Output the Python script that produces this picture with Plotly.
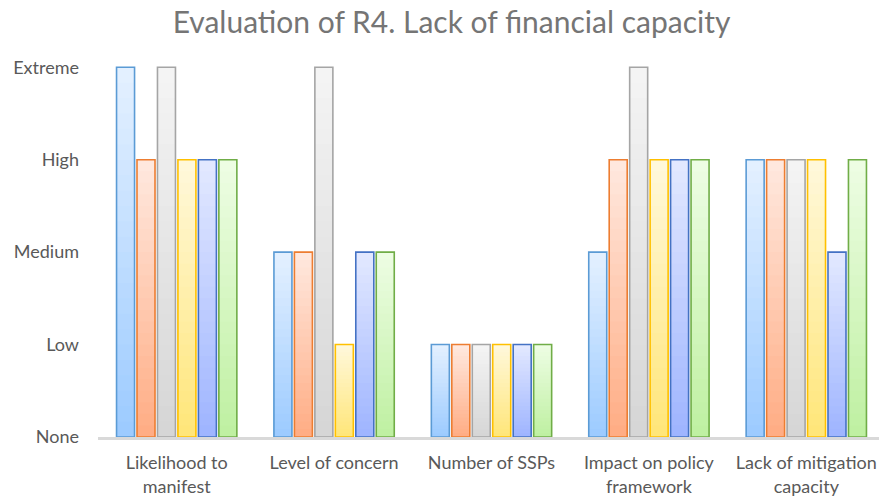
import plotly.graph_objects as go

categories = ["Likelihood to<br>manifest", "Level of concern", "Number of SSPs",
              "Impact on policy<br>framework", "Lack of mitigation<br>capacity"]
level_labels = ["None", "Low", "Medium", "High", "Extreme"]
level_values = [0, 1, 2, 3, 4]

series_values = {
    "S1": [4, 2, 1, 2, 3],
    "S2": [3, 2, 1, 3, 3],
    "S3": [4, 4, 1, 4, 3],
    "S4": [3, 1, 1, 3, 3],
    "S5": [3, 2, 1, 3, 2],
    "S6": [3, 2, 1, 3, 3],
}
outline_colors = ["#5B9BD5", "#ED7D31", "#A5A5A5", "#FFC000", "#4472C4", "#70AD47"]
top_colors = ["#E3F0FF", "#FFE8DE", "#F4F4F4", "#FFF8DA", "#E2E8FF", "#EDFDE3"]
bottom_colors = ["#9DCBFF", "#FFAD85", "#D6D6D6", "#FFE67A", "#9FB5FF", "#BFF0A2"]


def hex2rgb(h):
    h = h.lstrip("#")
    return tuple(int(h[i:i + 2], 16) for i in (0, 2, 4))


def mix(a, b, t):
    ra, rb = hex2rgb(a), hex2rgb(b)
    return "rgb(%d,%d,%d)" % tuple(round(ra[i] + (rb[i] - ra[i]) * t) for i in range(3))


N = 24
fig = go.Figure()
for si, (name, vals) in enumerate(series_values.items()):
    for k in range(N):
        frac = (N - k) / N
        fig.add_trace(go.Bar(
            x=categories, y=[v * frac for v in vals], base=0,
            offsetgroup=name, name=name, showlegend=False, hoverinfo="skip",
            marker=dict(color=mix(top_colors[si], bottom_colors[si], k / (N - 1)),
                        line=dict(width=0)),
        ))
    fig.add_trace(go.Bar(
        x=categories, y=vals, base=0, offsetgroup=name, name=name, showlegend=False,
        marker=dict(color="rgba(0,0,0,0)", line=dict(color=outline_colors[si], width=1.6)),
    ))

fig.update_layout(
    width=887, height=498,
    barmode="group", bargap=0.22, bargroupgap=0.12,
    plot_bgcolor="white", paper_bgcolor="white",
    margin=dict(l=90, r=10, t=50, b=69),
    font=dict(family="Lato, Open Sans, sans-serif", color="#595959", size=18),
    title=dict(text="Evaluation of R4. Lack of financial capacity", x=0.5, xanchor="center",
               xref="container", yref="container", y=0.971, yanchor="middle",
               font=dict(size=30, color="#757575")),
    xaxis=dict(showgrid=False, showline=True, linecolor="#D9D9D9", linewidth=2.5,
               ticks="", ticklabelstandoff=8, automargin=False,
               tickfont=dict(size=18, color="#595959")),
    yaxis=dict(range=[0, 4.1], tickmode="array", tickvals=level_values, ticktext=level_labels,
               showgrid=False, zeroline=False, showline=False, ticks="", automargin=False,
               ticklabelstandoff=18, tickfont=dict(size=18, color="#595959")),
)

fig.write_html("out.html")
